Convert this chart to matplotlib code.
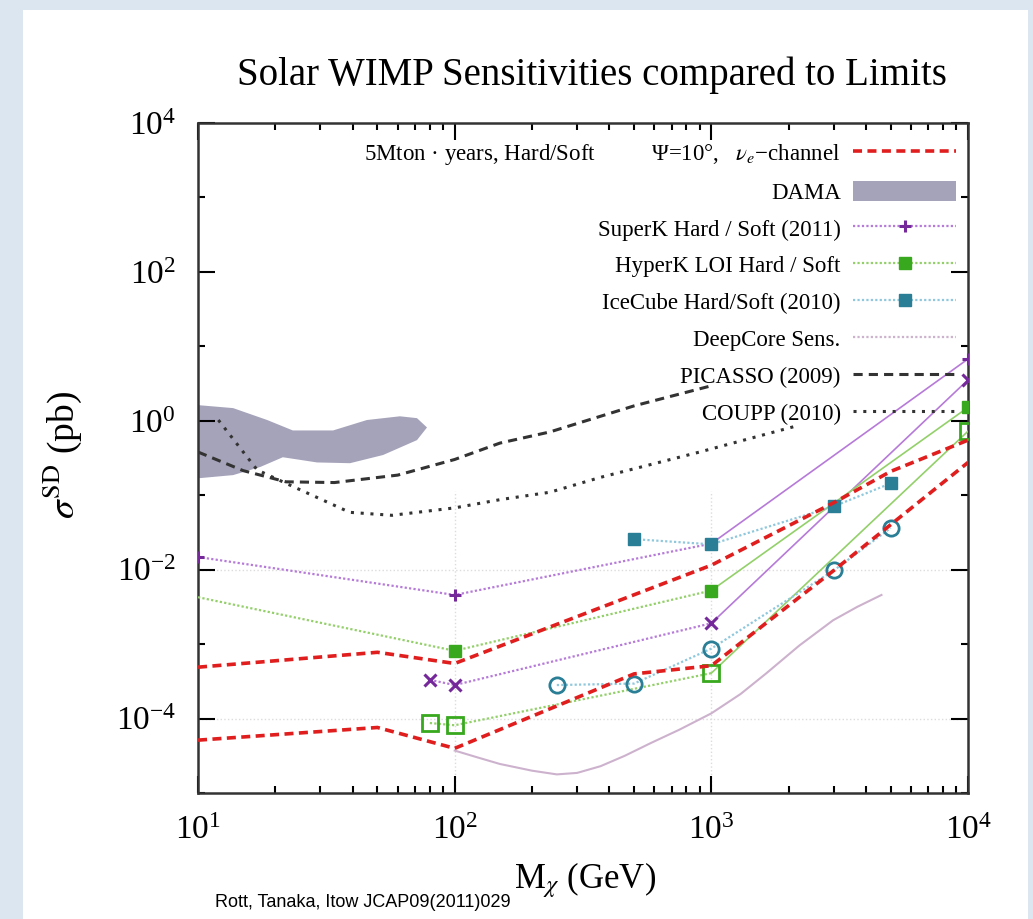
import numpy as np
import matplotlib
matplotlib.use("Agg")
import matplotlib.pyplot as plt
from matplotlib.lines import Line2D
from matplotlib.patches import Patch, Rectangle
from matplotlib.ticker import LogLocator, FixedLocator, NullFormatter

plt.rcParams["font.family"] = ["Liberation Serif", "DejaVu Serif"]
plt.rcParams["mathtext.fontset"] = "stix"

# values: WIMP mass (GeV) and log10 of sigma_SD (pb)
mass_5mt_hard = [10, 50, 100, 1000, 3000, 5000, 10000]
logsig_5mt_hard = [-3.31, -3.11, -3.26, -1.94, -1.10, -0.68, -0.26]
mass_5mt_soft = [10, 50, 100, 500, 1000, 3000, 10000]
logsig_5mt_soft = [-4.29, -4.12, -4.40, -3.40, -3.29, -2.01, -0.56]

mass_superk_hard = [10, 100, 1000, 10000]
logsig_superk_hard = [-1.83, -2.34, -1.65, 0.83]
mass_superk_soft = [80, 100, 1000, 10000]
logsig_superk_soft = [-3.48, -3.55, -2.72, 0.55]

mass_hyperk_hard = [10, 100, 1000, 10000]
logsig_hyperk_hard = [-2.37, -3.09, -2.28, 0.18]
mass_hyperk_soft = [80, 100, 1000, 10000]
logsig_hyperk_soft = [-4.06, -4.09, -3.39, -0.14]

mass_icecube_hard = [500, 1000, 3000, 5000]
logsig_icecube_hard = [-1.59, -1.66, -1.15, -0.84]
mass_icecube_soft = [250, 500, 1000, 3000, 5000]
logsig_icecube_soft = [-3.55, -3.53, -3.06, -2.01, -1.44]

mass_deepcore = [100, 125, 150, 200, 250, 300, 370, 460, 580, 750, 1000, 1300, 1640, 2200, 2980, 3700, 4600]
logsig_deepcore = [-4.43, -4.53, -4.61, -4.70, -4.75, -4.73, -4.64, -4.50, -4.33, -4.15,
                   -3.93, -3.67, -3.39, -3.02, -2.68, -2.50, -2.34]

mass_picasso = [10, 15, 22, 34, 60, 100, 150, 235, 500, 1000]
logsig_picasso = [-0.42, -0.67, -0.82, -0.83, -0.73, -0.52, -0.30, -0.15, 0.20, 0.47]

mass_coupp = [12, 17, 22, 39, 57, 100, 150, 235, 370, 900, 2200]
logsig_coupp = [0.01, -0.66, -0.84, -1.23, -1.27, -1.17, -1.06, -0.96, -0.76, -0.42, -0.06]

# DAMA allowed region outline (upper edge then lower edge back)
mass_dama = [9, 10, 13.7, 18.6, 23.4, 33.6, 45.5, 61.2, 71.3, 78.0, 71.3, 52.6, 39.1, 29.1, 21.4, 17.5, 13.7, 10.2, 9]
logsig_dama = [0.21, 0.21, 0.17, 0.01, -0.13, -0.13, 0.01, 0.06, 0.035, -0.09,
               -0.26, -0.46, -0.57, -0.56, -0.49, -0.62, -0.73, -0.77, -0.77]

y_labelled = [1e-4, 1e-2, 1, 1e2, 1e4]
y_unlabelled = [1e-5, 1e-3, 1e-1, 1e1, 1e3]

red = "#e01e1e"
purple_line, purple_mk = "#b67ad8", "#74289a"
green_line, green_mk = "#93d06a", "#38a81e"
teal_line, teal_mk = "#8fc8dc", "#2a7e96"
deep_col = "#cdb2cd"
dama_col = "#a5a3b9"

fig = plt.figure(figsize=(10.33, 9.19), dpi=100, facecolor="#dce6f0")
fig.patches.append(Rectangle((23 / 1033, 0), 1005 / 1033, 909 / 919,
                             transform=fig.transFigure, facecolor="white",
                             edgecolor="none", zorder=-5))
ax = fig.add_axes([0.1917, 0.1371, 0.7454, 0.7291])
ax.set_zorder(2)
ax.patch.set_alpha(0)

def sig(v):
    return 10 ** np.array(v)

ax.fill(mass_dama, sig(logsig_dama), color=dama_col, lw=0, zorder=1)

# faint grid
for gx in [100, 1000]:
    ax.axvline(gx, ymax=0.45, color="#dcdcdc", lw=1, ls=":", zorder=0.5)
for gy in [1e-2, 1e-4]:
    ax.axhline(gy, color="#dcdcdc", lw=1, ls=":", zorder=0.5)

ax.plot(mass_picasso, sig(logsig_picasso), color="#333333", lw=2.2, ls=(0, (3, 2)), zorder=3)
ax.plot(mass_coupp, sig(logsig_coupp), color="#333333", lw=2.2, ls=(0, (1, 2.2)), zorder=3)

ax.plot(mass_deepcore, sig(logsig_deepcore), color=deep_col, lw=1.5, zorder=2)

# SuperK: measured range dotted, extrapolation to 10 TeV solid
for m, s, mk, ms in [(mass_superk_hard, logsig_superk_hard, "+", 9),
                     (mass_superk_soft, logsig_superk_soft, "x", 9)]:
    ax.plot(m[:-1], sig(s[:-1]), color=purple_line, lw=1.6, ls=(0, (1, 1)), zorder=3)
    ax.plot(m[-2:], sig(s[-2:]), color=purple_line, lw=1.2, zorder=3)
    ax.plot(m, sig(s), ls="none", marker=mk, ms=ms, mew=2.2, color=purple_mk, zorder=4)

ax.plot(mass_hyperk_hard[:-1], sig(logsig_hyperk_hard[:-1]), color=green_line, lw=1.6, ls=(0, (1, 1)), zorder=3)
ax.plot(mass_hyperk_hard[-2:], sig(logsig_hyperk_hard[-2:]), color=green_line, lw=1.2, zorder=3)
ax.plot(mass_hyperk_hard[1:], sig(logsig_hyperk_hard[1:]), ls="none", marker="s", ms=8,
        color=green_mk, zorder=5)
ax.plot(mass_hyperk_soft[:-1], sig(logsig_hyperk_soft[:-1]), color=green_line, lw=1.6, ls=(0, (1, 1)), zorder=3)
ax.plot(mass_hyperk_soft[-2:], sig(logsig_hyperk_soft[-2:]), color=green_line, lw=1.2, zorder=3)
ax.plot(mass_hyperk_soft, sig(logsig_hyperk_soft), ls="none", marker="s", ms=11, mew=2,
        mfc="none", mec=green_mk, zorder=5)

ax.plot(mass_icecube_hard, sig(logsig_icecube_hard), color=teal_line, lw=1.6, ls=(0, (1, 1)),
        marker="s", ms=9, mfc=teal_mk, mec=teal_mk, zorder=5)
ax.plot(mass_icecube_soft, sig(logsig_icecube_soft), color=teal_line, lw=1.6, ls=(0, (1, 1)),
        marker="o", ms=11, mew=2, mfc="none", mec=teal_mk, zorder=5)

ax.plot(mass_5mt_hard, sig(logsig_5mt_hard), color=red, lw=2.6, ls=(0, (2.5, 1.5)), zorder=6)
ax.plot(mass_5mt_soft, sig(logsig_5mt_soft), color=red, lw=2.6, ls=(0, (2.5, 1.5)), zorder=6)

ax.set_xscale("log")
ax.set_yscale("log")
ax.set_xlim(10, 1e4)
ax.set_ylim(1e-5, 1e4)

ax.yaxis.set_major_locator(FixedLocator(y_labelled))
ax.yaxis.set_minor_locator(FixedLocator(y_unlabelled))
ax.yaxis.set_minor_formatter(NullFormatter())
ax.xaxis.set_major_locator(FixedLocator([10, 100, 1000, 10000]))
ax.xaxis.set_minor_locator(LogLocator(base=10.0, subs=np.arange(2, 10), numticks=20))
ax.xaxis.set_minor_formatter(NullFormatter())
ax.tick_params(which="both", direction="in", top=True, right=True, width=1.5, labelsize=24)
ax.tick_params(which="major", length=12)
ax.tick_params(which="minor", length=5)
ax.tick_params(axis="x", pad=16)
ax.tick_params(axis="y", pad=16)
for sp in ax.spines.values():
    sp.set_linewidth(1.8)
    sp.set_color("#333333")

handles = [
    Line2D([], [], color=red, lw=2.6, ls=(0, (2.5, 1.5))),
    Patch(facecolor=dama_col, edgecolor="none"),
    Line2D([], [], color=purple_line, lw=1.6, ls=(0, (1, 1)), marker="+", ms=9, mew=2.2, mec=purple_mk),
    Line2D([], [], color=green_line, lw=1.6, ls=(0, (1, 1)), marker="s", ms=8, mfc=green_mk, mec=green_mk),
    Line2D([], [], color=teal_line, lw=1.6, ls=(0, (1, 1)), marker="s", ms=9, mfc=teal_mk, mec=teal_mk),
    Line2D([], [], color=deep_col, lw=1.6, ls=(0, (1, 1))),
    Line2D([], [], color="#333333", lw=2.2, ls=(0, (3, 2))),
    Line2D([], [], color="#333333", lw=2.2, ls=(0, (1, 2.2))),
]
labels = [
    "5Mton · years, Hard/Soft          Ψ=10°,   $\\nu_e$\u2212channel",
    "DAMA",
    "SuperK Hard / Soft (2011)",
    "HyperK LOI Hard / Soft",
    "IceCube Hard/Soft (2010)",
    "DeepCore Sens.",
    "PICASSO (2009)",
    "COUPP (2010)",
]
ax.legend(handles, labels, loc="upper right", bbox_to_anchor=(0.985, 0.972), frameon=False,
          markerfirst=False, fontsize=16.5, handlelength=4.5, handleheight=1.0,
          handletextpad=0.55, labelspacing=0.6, borderpad=0, borderaxespad=0)

fig.text(592 / 1033, 1 - 75 / 919, "Solar WIMP Sensitivities compared to Limits",
         ha="center", va="center", fontsize=28)
fig.text(62 / 1033, 1 - 455 / 919, r"$\sigma^{\rm SD}$ (pb)", rotation=90,
         ha="center", va="center", fontsize=27)
fig.text(585 / 1033, 1 - 880 / 919, r"M$_\chi$ (GeV)", ha="center", va="center", fontsize=25)
fig.text(215 / 1033, 8 / 919, "Rott, Tanaka, Itow JCAP09(2011)029",
         family="Liberation Sans", fontsize=13, ha="left", va="bottom")

fig.savefig("out.png", dpi=100, facecolor=fig.get_facecolor())
